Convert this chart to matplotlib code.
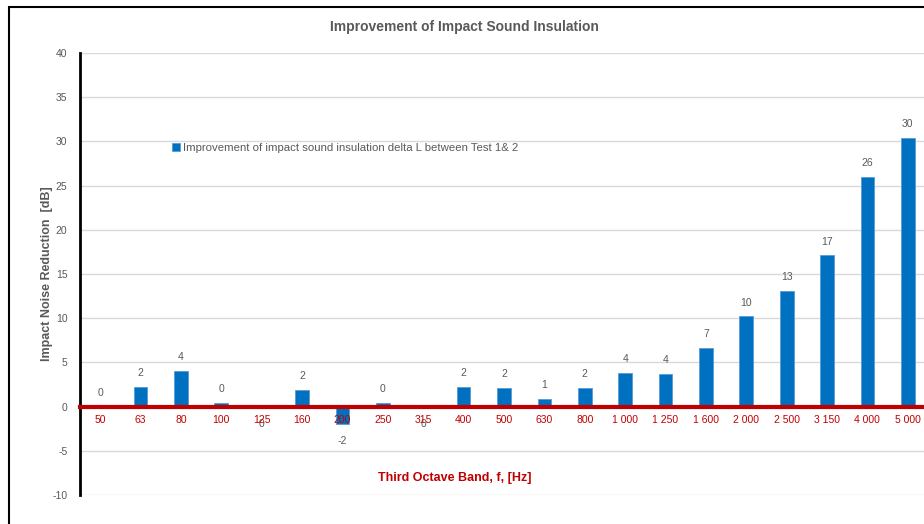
import matplotlib
matplotlib.use("Agg")
import matplotlib.pyplot as plt
from matplotlib.patches import Rectangle

# third octave bands and measured improvement (delta L, dB)
bands = ["50", "63", "80", "100", "125", "160", "200", "250", "315", "400", "500",
         "630", "800", "1 000", "1 250", "1 600", "2 000", "2 500", "3 150", "4 000", "5 000"]
delta_l = [0.0, 2.2, 4.0, 0.4, -0.1, 1.9, -2.0, 0.4, -0.1, 2.2, 2.1,
           0.9, 2.1, 3.8, 3.7, 6.6, 10.2, 13.1, 17.1, 26.0, 30.4]
y_ticks = [-10, -5, 0, 5, 10, 15, 20, 25, 30, 35, 40]

plt.rcParams['font.family'] = ['Liberation Sans', 'DejaVu Sans']
plt.rcParams['axes.unicode_minus'] = False
W, H = 924, 524
fig = plt.figure(figsize=(W / 100, H / 100), dpi=100)
ax = fig.add_axes([80 / W, 29 / H, 848 / W, 442 / H])

x = list(range(len(bands)))
ax.bar(x, delta_l, width=0.34, color='#0070C0', edgecolor='#5B9BD5', linewidth=0.6,
       zorder=2, label='Improvement of impact sound insulation delta L between Test 1& 2')

# data labels
for xi, v in zip(x, delta_l):
    off = 10 if v >= 0 else -12
    ax.annotate(f"{round(v):d}", (xi, v), xytext=(0, off), textcoords='offset points',
                ha='center', va='center', fontsize=7.5, color='#595959')

ax.set_xlim(-0.5, len(bands) - 0.5)
ax.set_ylim(-10, 40)
ax.set_yticks(y_ticks)
ax.grid(axis='y', color='#D9D9D9', linewidth=1, zorder=0)
ax.set_axisbelow(True)
ax.set_xticks(x)
ax.set_xticklabels(bands)
ax.tick_params(axis='x', length=0, pad=6, labelcolor='#C00000', labelsize=7.5)
ax.tick_params(axis='y', length=0, pad=9, labelcolor='#595959', labelsize=7.5)
ax.xaxis.set_zorder(4)  # category labels sit on top of the bars, like the original

for s in ['top', 'right']:
    ax.spines[s].set_visible(False)
ax.spines['left'].set_linewidth(2)
ax.spines['left'].set_color('black')
ax.spines['bottom'].set_position(('data', 0))
ax.spines['bottom'].set_color('#C00000')
ax.spines['bottom'].set_linewidth(3)
ax.spines['bottom'].set_zorder(3)

fig.text(464 / W, 1 - 27 / H, 'Improvement of Impact Sound Insulation', ha='center', va='center',
         fontsize=10, fontweight='bold', color='#595959')
fig.text(455 / W, 1 - 478 / H, 'Third Octave Band, f, [Hz]', ha='center', va='center',
         fontsize=9, fontweight='bold', color='#C00000')
fig.text(47 / W, 1 - 274 / H, 'Impact Noise Reduction  [dB]', ha='center', va='center',
         rotation=90, fontsize=9, fontweight='bold', color='#595959')

fig.legend(loc='center left', bbox_to_anchor=(172 / W, 1 - 148 / H), frameon=False,
           fontsize=8.2, handlelength=0.7, handleheight=0.7, handletextpad=0.3,
           borderpad=0, borderaxespad=0, labelcolor='#595959')

fig.add_artist(Rectangle((9 / W, -0.1), 2, 1.1 - 7 / H, transform=fig.transFigure,
                         fill=False, edgecolor='black', linewidth=1.5))

plt.savefig('out.png', dpi=100)
